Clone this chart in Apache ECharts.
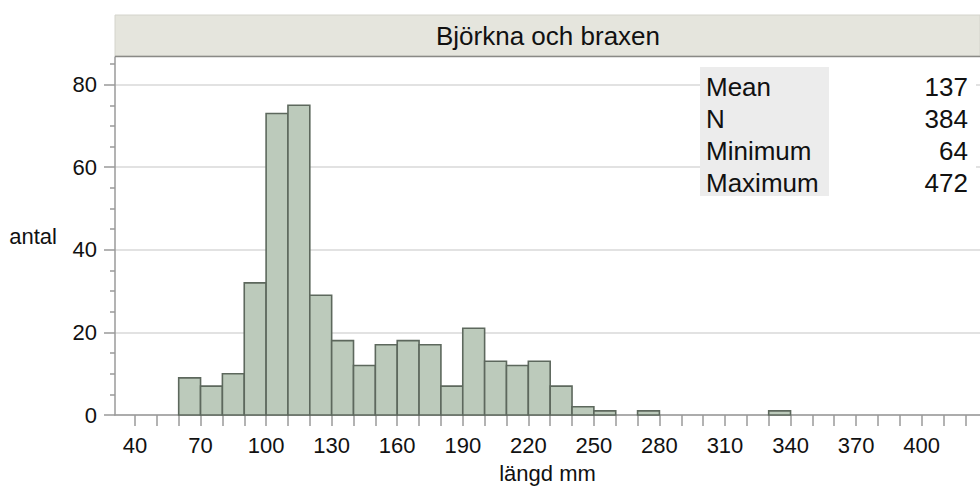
<!DOCTYPE html>
<html>
<head>
<meta charset="utf-8">
<script src="https://cdn.jsdelivr.net/npm/echarts@6/dist/echarts.min.js"></script>
<style>
  html, body { margin: 0; padding: 0; background: #fff; }
  #main { width: 980px; height: 489px; }
</style>
</head>
<body>
<div id="main"></div>
<script>
// histogram bins (10 mm wide), start of each bin
var binStarts = [60, 70, 80, 90, 100, 110, 120, 130, 140, 150, 160, 170, 180, 190,
                 200, 210, 220, 230, 240, 250, 260, 270, 280, 290, 300, 310, 320, 330];
var counts = [9, 7, 10, 32, 73, 75, 29, 18, 12, 17, 18, 17, 7, 21,
              13, 12, 13, 7, 2, 1, 0, 1, 0, 0, 0, 0, 0, 1];
var binWidth = 10;

var xLabelValues = [40, 70, 100, 130, 160, 190, 220, 250, 280, 310, 340, 370, 400];
var xTickValues = [40, 50, 60, 70, 80, 90, 100, 110, 120, 130, 140, 150, 160, 170, 180, 190,
                   200, 210, 220, 230, 240, 250, 260, 270, 280, 290, 300, 310, 320, 330, 340,
                   350, 360, 370, 380, 390, 400, 410, 420];
var yLabelValues = [0, 20, 40, 60, 80];
var yMinorValues = [5, 10, 15, 25, 30, 35, 45, 50, 55, 65, 70, 75, 85];

var statNames = ['Mean', 'N', 'Minimum', 'Maximum'];
var statValues = ['137', '384', '64', '472'];

var titleText = 'Björkna och braxen';
var xName = 'längd mm';
var yName = 'antal';

var font = "'Liberation Sans', Arial, Helvetica, sans-serif";

var histData = binStarts.map(function (s, i) { return [s, s + binWidth, counts[i]]; })
  .filter(function (d) { return d[2] > 0; });

var statGraphics = [];
statGraphics.push({ type: 'rect', shape: { x: 829, y: 67, width: 147, height: 129 },
  style: { fill: '#ffffff' }, z: 10 });
statGraphics.push({ type: 'rect', shape: { x: 700, y: 67, width: 129, height: 129 },
  style: { fill: '#ececec' }, z: 10 });
statNames.forEach(function (n, i) {
  statGraphics.push({ type: 'text', x: 706, y: 86.5 + i * 32.2, z: 11,
    style: { text: n, font: '26px ' + font, fill: '#111', textVerticalAlign: 'middle', verticalAlign: 'middle' } });
  statGraphics.push({ type: 'text', x: 968, y: 86.5 + i * 32.2, z: 11,
    style: { text: statValues[i], font: '26px ' + font, fill: '#111', align: 'right', textAlign: 'right',
             textVerticalAlign: 'middle', verticalAlign: 'middle' } });
});

var chart = echarts.init(document.getElementById('main'), null, { renderer: 'svg' });
var option = {
  animation: false,
  backgroundColor: '#ffffff',
  textStyle: { fontFamily: font },
  grid: { left: 115, right: 0, top: 57, bottom: 71 },
  xAxis: {
    type: 'value',
    min: 30.85,
    max: 426.7,
    name: xName,
    nameLocation: 'middle',
    nameGap: 47,
    nameTextStyle: { fontSize: 22, color: '#111', fontFamily: font },
    axisLine: { lineStyle: { color: '#9a9a9a', width: 1.5 } },
    axisTick: { show: true, length: 11, customValues: xTickValues, lineStyle: { color: '#9a9a9a', width: 1.5 } },
    axisLabel: { customValues: xLabelValues, fontSize: 22, color: '#111', margin: 19, fontFamily: font },
    splitLine: { show: false }
  },
  yAxis: [{
    type: 'value',
    min: 0,
    max: 86.7,
    interval: 20,
    name: yName,
    nameLocation: 'middle',
    nameRotate: 0,
    nameGap: 58,
    nameTextStyle: { fontSize: 22, color: '#111', fontFamily: font, align: 'right', verticalAlign: 'middle' },
    axisLine: { show: true, lineStyle: { color: '#9a9a9a', width: 1.5 } },
    axisTick: { show: true, length: 11, customValues: yLabelValues, lineStyle: { color: '#9a9a9a', width: 1.5 } },
    axisLabel: { customValues: yLabelValues, fontSize: 22, color: '#111', margin: 18, fontFamily: font },
    splitLine: { show: true, lineStyle: { color: '#d8d8d8', width: 1.5 } }
  }, {
    type: 'value',
    min: 0,
    max: 86.7,
    position: 'left',
    axisLine: { show: false },
    axisTick: { show: true, length: 5, customValues: yMinorValues, lineStyle: { color: '#9a9a9a', width: 1.5 } },
    axisLabel: { show: false },
    splitLine: { show: false }
  }],
  graphic: [
    { type: 'rect', shape: { x: 115, y: 15, width: 865, height: 41 },
      style: { fill: '#e5e5dd', stroke: '#d4d4cc', lineWidth: 1 }, z: 5 },
    { type: 'line', shape: { x1: 115, y1: 56.5, x2: 980, y2: 56.5 },
      style: { stroke: '#8a8a86', lineWidth: 1.5 }, z: 6 },
    { type: 'text', x: 548, y: 36, z: 6,
      style: { text: titleText, font: '26px ' + font, fill: '#111', align: 'center', textAlign: 'center',
               verticalAlign: 'middle', textVerticalAlign: 'middle' } }
  ].concat(statGraphics),
  series: [{
    type: 'custom',
    xAxisIndex: 0,
    yAxisIndex: 0,
    data: histData,
    renderItem: function (params, api) {
      var p0 = api.coord([api.value(0), api.value(2)]);
      var p1 = api.coord([api.value(1), 0]);
      return {
        type: 'rect',
        shape: { x: p0[0], y: p0[1], width: p1[0] - p0[0], height: p1[1] - p0[1] },
        style: { fill: '#bccabb', stroke: '#5d685d', lineWidth: 1.6 }
      };
    }
  }]
};
chart.setOption(option);
</script>
</body>
</html>
